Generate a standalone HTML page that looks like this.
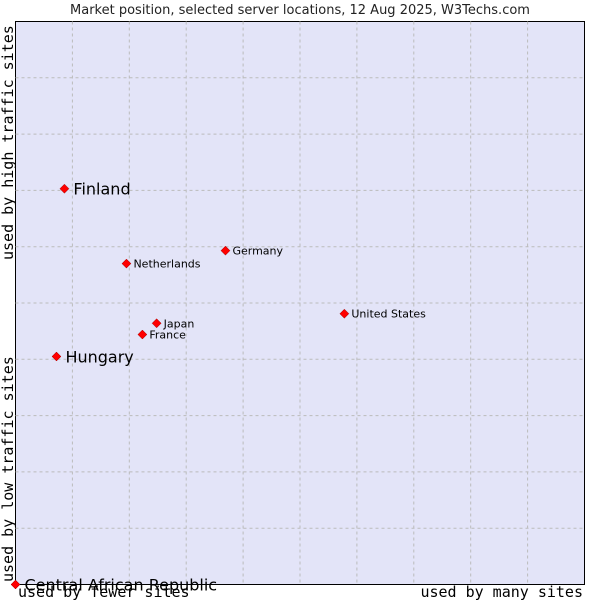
<!DOCTYPE html>
<html><head><meta charset="utf-8"><style>
html,body{margin:0;padding:0;background:#fff;width:600px;height:600px;overflow:hidden}
svg text{font-family:"DejaVu Sans","Liberation Sans",sans-serif}
.mono{font-family:"DejaVu Sans Mono","Liberation Mono",monospace}
</style></head><body>
<svg id="chart" width="600" height="600">
<text x="300" y="14" text-anchor="middle" font-size="13" fill="#222">Market position, selected server locations, 12 Aug 2025, W3Techs.com</text>
<rect x="15.5" y="21.5" width="569" height="563" fill="#e3e4f8" stroke="#000"/>
<g id="grid"></g>
<g id="pts"></g>
<text class="mono" x="18" y="597" font-size="15" fill="#000">used by fewer sites</text>
<text class="mono" x="583" y="597" text-anchor="end" font-size="15" fill="#000">used by many sites</text>
<text class="mono" transform="translate(13,260) rotate(-90)" font-size="15" fill="#000">used by high traffic sites</text>
<text class="mono" transform="translate(13,582) rotate(-90)" font-size="15" fill="#000">used by low traffic sites</text>
</svg>
<script>
const names=["Finland","Netherlands","Germany","United States","Japan","France","Hungary","Central African Republic"];
const xVals=[8.6,19.5,36.9,57.8,24.8,22.3,7.2,0];
const yVals=[70.3,57.0,59.3,48.1,46.4,44.4,40.5,0];
const big=[true,false,false,false,false,false,true,true];
const L=15.5,T=21.5,W=569,H=563;
const xs=v=>L+v/100*W, ys=v=>T+H-v/100*H;
const NS="http://www.w3.org/2000/svg";
const g=document.getElementById('grid');
for(let i=1;i<10;i++){
 const v=document.createElementNS(NS,'line');
 v.setAttribute('x1',xs(i*10));v.setAttribute('x2',xs(i*10));v.setAttribute('y1',T);v.setAttribute('y2',T+H);
 v.setAttribute('stroke','#bbb');v.setAttribute('stroke-dasharray','3,3');
 
 
 g.appendChild(v);
 const h=document.createElementNS(NS,'line');
 h.setAttribute('y1',ys(i*10));h.setAttribute('y2',ys(i*10));h.setAttribute('x1',L);h.setAttribute('x2',L+W);
 h.setAttribute('stroke','#bbb');h.setAttribute('stroke-dasharray','3,3');
 
 
 g.appendChild(h);
}
const p=document.getElementById('pts');
names.forEach((n,i)=>{
 const x=xs(xVals[i]),y=ys(yVals[i]);
 const d=document.createElementNS(NS,'path');
 d.setAttribute('d',`M${x-4.5},${y}L${x},${y-4.5}L${x+4.5},${y}L${x},${y+4.5}Z`);
 d.setAttribute('fill','#f00');d.setAttribute('stroke','#900');d.setAttribute('stroke-width','0.5');
 
 
 p.appendChild(d);
 const t=document.createElementNS(NS,'text');
 t.setAttribute('x',x+(big[i]?9:7));t.setAttribute('y',y+(big[i]?6:4));
 t.setAttribute('font-size',big[i]?16:11);t.setAttribute('fill','#000');
 t.textContent=n;
 
 
 p.appendChild(t);
});
</script>
</body></html>
